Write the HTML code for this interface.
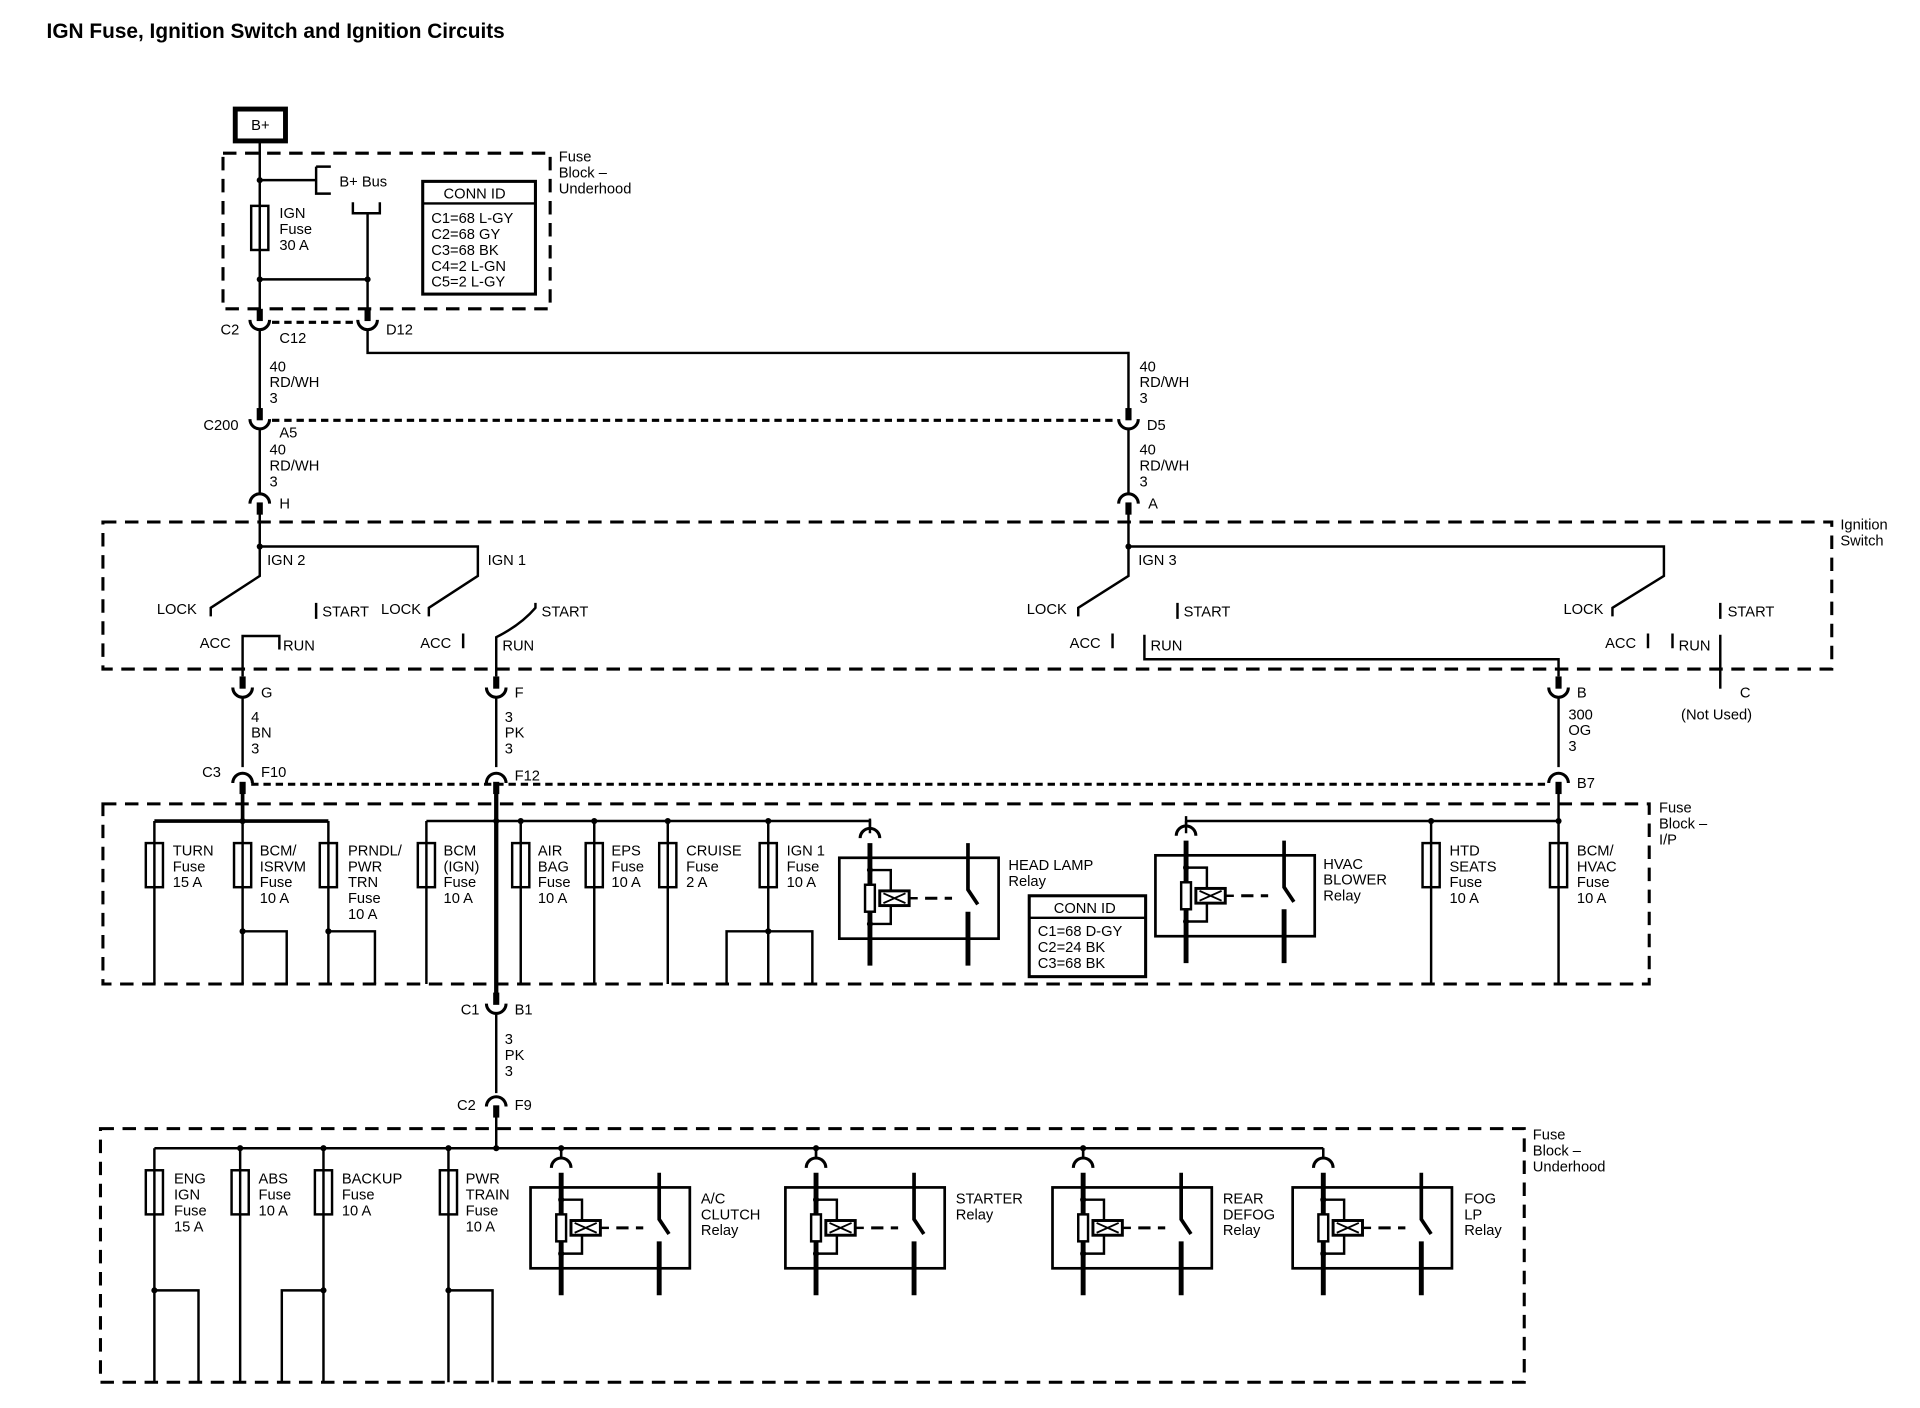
<!DOCTYPE html>
<html><head><meta charset="utf-8"><style>
html,body{margin:0;padding:0;background:#fff;}
svg{display:block;}
text{font-family:"Liberation Sans",sans-serif;font-size:12px;fill:#000;}
</style></head><body>
<svg width="1920" height="1408" viewBox="0 0 1567 1149" preserveAspectRatio="none" xmlns="http://www.w3.org/2000/svg">
<defs>
<g id="relay" fill="none" stroke="#000">
 <path d="M25,-32 V-24" stroke-width="2"/>
 <path d="M17,-16 A8,8 0 0 1 33,-16" stroke-width="2.5"/>
 <rect x="0" y="0" width="130" height="66" stroke-width="2.2" fill="#fff"/>
 <path d="M25,-12 V88" stroke-width="4"/>
 <path d="M25,10 H42 V54 H25" stroke-width="2"/>
 <circle cx="25" cy="10" r="2" fill="#000"/><circle cx="25" cy="54" r="2" fill="#000"/>
 <rect x="21" y="22" width="8" height="22" stroke-width="2" fill="#fff"/>
 <rect x="33" y="27" width="24" height="12" stroke-width="2.4" fill="#fff"/>
 <path d="M36,29 L54,37 M36,37 L54,29" stroke-width="1.5"/>
 <path d="M57,33 H64" stroke-width="2"/>
 <path d="M70,33 H80 M86,33 H92" stroke-width="2.5"/>
 <path d="M105,-12 V26 L113,38" stroke-width="3"/>
 <path d="M105,44 V88" stroke-width="4"/>
</g>
<g id="fuse"><rect x="-7" y="0" width="14" height="36" fill="#fff" stroke="#000" stroke-width="2"/><line x1="0" y1="0" x2="0" y2="36" stroke="#000" stroke-width="2"/></g>
<g id="cupD" fill="none" stroke="#000"><path d="M0,-10 V0" stroke-width="5"/><path d="M-8,-1 A8,8 0 0 0 8,-1" stroke-width="2.5"/></g>
<g id="cupU" fill="none" stroke="#000"><path d="M0,10 V0" stroke-width="5"/><path d="M-8,1 A8,8 0 0 1 8,1" stroke-width="2.5"/></g>
</defs>

<text x="38" y="31" style="font-size:17px;font-weight:bold">IGN Fuse, Ignition Switch and Ignition Circuits</text>

<g fill="none" stroke="#000" stroke-width="2">
<rect x="192" y="89" width="41" height="26" stroke-width="4"/>
<rect x="182" y="125" width="267" height="127" stroke-dasharray="11,7" stroke-width="2.5"/>
<path d="M212,115 V256"/>
<path d="M212,147 H258 M258,136 H270 M258,136 V158 H270"/>
<path d="M288,165 V174 H310 V165 M300,174 V256"/>
<path d="M212,228 H300"/>
<rect x="345" y="148" width="92" height="92" stroke-width="2.5"/>
<path d="M345,166 H437"/>
<path d="M222,263 H292" stroke-dasharray="6,4" stroke-width="2.5"/>
<path d="M212,268 V336 M300,268 V288 H921 V336"/>
<path d="M222,343 H912" stroke-dasharray="6,4" stroke-width="2.5"/>
<path d="M212,350 V402 M921,350 V402"/>
<rect x="84" y="426" width="1411" height="120" stroke-dasharray="11,7" stroke-width="2.5"/>
<path d="M212,418 V470 L172,496 V503 M212,446 H390 V470 L350,496 V503"/>
<path d="M258,492 V505 M378,517 V529 M198,552 V519 H228 V530"/>
<path d="M405,552 V520 Q425,510 437,496 V492"/>
<path d="M921,418 V470 L880,496 V503 M921,446 H1358 V470 L1316,496 V503"/>
<path d="M961,492 V505 M908,517 V529 M1345,517 V529 M1365,517 V529 M1404,492 V505"/>
<path d="M934,518 V538 H1272 V552"/>
<path d="M1404,518 V562"/>
<path d="M198,570 V626 M405,570 V626 M1272,570 V626"/>
<path d="M205,640 H1265" stroke-dasharray="6,4" stroke-width="2.5"/>
<rect x="84" y="656" width="1262" height="147" stroke-dasharray="11,7" stroke-width="2.5"/>
<path d="M198,646 V670 M126,670 H268" stroke-width="3"/>
<path d="M126,670 V803 M198,670 V803 M268,670 V803 M198,760 H234 V803 M268,760 H306 V803"/>
<path d="M405,646 V812" stroke-width="3.5"/>
<path d="M348,670 H710 V680"/>
<path d="M348,670 V803 M425,670 V803 M485,670 V803 M545,670 V803 M627,670 V803 M593,803 V760 H663 V803 M627,760 H593"/>
<path d="M1272,646 V803 M968,670 H1272 V670 M968,670 V680 M1168,670 V803"/>
<rect x="840" y="731" width="95" height="66" stroke-width="2.5"/>
<path d="M840,749 H935"/>
<path d="M405,828 V892"/>
<path d="M405,910 V937"/>
<rect x="82" y="921" width="1162" height="207" stroke-dasharray="11,7" stroke-width="2.5"/>
<path d="M126,937 H1080"/>
<path d="M126,937 V1128 M196,937 V1128 M264,937 V1128 M366,937 V1128 M126,1053 H162 V1128 M264,1053 H230 V1128 M366,1053 H402 V1128"/>
</g>
<g fill="#000">
<circle cx="212" cy="147" r="2.5"/><circle cx="212" cy="228" r="2.5"/><circle cx="300" cy="228" r="2.5"/>
<circle cx="212" cy="446" r="2.5"/><circle cx="921" cy="446" r="2.5"/>
<circle cx="198" cy="670" r="2.5"/><circle cx="405" cy="670" r="2.5"/><circle cx="425" cy="670" r="2.5"/><circle cx="485" cy="670" r="2.5"/><circle cx="545" cy="670" r="2.5"/><circle cx="627" cy="670" r="2.5"/>
<circle cx="1168" cy="670" r="2.5"/><circle cx="1272" cy="670" r="2.5"/>
<circle cx="198" cy="760" r="2.5"/><circle cx="268" cy="760" r="2.5"/><circle cx="627" cy="760" r="2.5"/>
<circle cx="405" cy="937" r="2.5"/><circle cx="196" cy="937" r="2.5"/><circle cx="264" cy="937" r="2.5"/><circle cx="366" cy="937" r="2.5"/><circle cx="458" cy="937" r="2.5"/><circle cx="666" cy="937" r="2.5"/><circle cx="884" cy="937" r="2.5"/>
<circle cx="126" cy="1053" r="2.5"/><circle cx="264" cy="1053" r="2.5"/><circle cx="366" cy="1053" r="2.5"/>
</g>
<use href="#cupD" x="212" y="262"/><use href="#cupD" x="300" y="262"/>
<use href="#cupD" x="212" y="343"/><use href="#cupD" x="921" y="343"/>
<use href="#cupU" x="212" y="410"/><use href="#cupU" x="921" y="410"/>
<use href="#cupD" x="198" y="562"/><use href="#cupD" x="405" y="562"/><use href="#cupD" x="1272" y="562"/>
<use href="#cupU" x="198" y="638"/><use href="#cupU" x="405" y="638"/><use href="#cupU" x="1272" y="638"/>
<use href="#cupD" x="405" y="820"/><use href="#cupU" x="405" y="902"/>
<use href="#fuse" x="212" y="168"/>
<use href="#fuse" x="126" y="688"/><use href="#fuse" x="198" y="688"/><use href="#fuse" x="268" y="688"/>
<use href="#fuse" x="348" y="688"/><use href="#fuse" x="425" y="688"/><use href="#fuse" x="485" y="688"/><use href="#fuse" x="545" y="688"/><use href="#fuse" x="627" y="688"/>
<use href="#fuse" x="1168" y="688"/><use href="#fuse" x="1272" y="688"/>
<use href="#fuse" x="126" y="955"/><use href="#fuse" x="196" y="955"/><use href="#fuse" x="264" y="955"/><use href="#fuse" x="366" y="955"/>
<use href="#relay" x="685" y="700"/>
<use href="#relay" x="943" y="698"/>
<use href="#relay" x="433" y="969"/>
<use href="#relay" x="641" y="969"/>
<use href="#relay" x="859" y="969"/>
<use href="#relay" x="1055" y="969"/>
<path d="M458,937 V944 M666,937 V944 M884,937 V944 M1080,937 V944" stroke="#000" stroke-width="2"/>

<text x="205" y="106">B+</text>
<text x="277" y="152">B+ Bus</text>
<text x="228" y="178">IGN</text><text x="228" y="191">Fuse</text><text x="228" y="204">30 A</text>
<text x="456" y="132">Fuse</text><text x="456" y="145">Block –</text><text x="456" y="158">Underhood</text>
<text x="362" y="162">CONN ID</text>
<text x="352" y="182">C1=68 L-GY</text><text x="352" y="195">C2=68 GY</text><text x="352" y="208">C3=68 BK</text><text x="352" y="221">C4=2 L-GN</text><text x="352" y="234">C5=2 L-GY</text>
<text x="180" y="273">C2</text><text x="228" y="280">C12</text><text x="315" y="273">D12</text>
<text x="220" y="303">40</text><text x="220" y="316">RD/WH</text><text x="220" y="329">3</text>
<text x="930" y="303">40</text><text x="930" y="316">RD/WH</text><text x="930" y="329">3</text>
<text x="166" y="351">C200</text><text x="228" y="357">A5</text><text x="936" y="351">D5</text>
<text x="220" y="371">40</text><text x="220" y="384">RD/WH</text><text x="220" y="397">3</text>
<text x="930" y="371">40</text><text x="930" y="384">RD/WH</text><text x="930" y="397">3</text>
<text x="228" y="415">H</text><text x="937" y="415">A</text>
<text x="1502" y="432">Ignition</text><text x="1502" y="445">Switch</text>
<text x="218" y="461">IGN 2</text><text x="398" y="461">IGN 1</text><text x="929" y="461">IGN 3</text>
<text x="128" y="501">LOCK</text><text x="263" y="503">START</text><text x="311" y="501">LOCK</text><text x="442" y="503">START</text>
<text x="163" y="529">ACC</text><text x="231" y="531">RUN</text><text x="343" y="529">ACC</text><text x="410" y="531">RUN</text>
<text x="838" y="501">LOCK</text><text x="966" y="503">START</text><text x="873" y="529">ACC</text><text x="939" y="531">RUN</text>
<text x="1276" y="501">LOCK</text><text x="1410" y="503">START</text><text x="1310" y="529">ACC</text><text x="1370" y="531">RUN</text>
<text x="213" y="569">G</text><text x="420" y="569">F</text><text x="1287" y="569">B</text>
<text x="1420" y="569">C</text><text x="1372" y="587">(Not Used)</text>
<text x="205" y="589">4</text><text x="205" y="602">BN</text><text x="205" y="615">3</text>
<text x="412" y="589">3</text><text x="412" y="602">PK</text><text x="412" y="615">3</text>
<text x="1280" y="587">300</text><text x="1280" y="600">OG</text><text x="1280" y="613">3</text>
<text x="165" y="634">C3</text><text x="213" y="634">F10</text><text x="420" y="637">F12</text><text x="1287" y="643">B7</text>
<text x="1354" y="663">Fuse</text><text x="1354" y="676">Block –</text><text x="1354" y="689">I/P</text>
<text x="141" y="698">TURN</text><text x="141" y="711">Fuse</text><text x="141" y="724">15 A</text>
<text x="212" y="698">BCM/</text><text x="212" y="711">ISRVM</text><text x="212" y="724">Fuse</text><text x="212" y="737">10 A</text>
<text x="284" y="698">PRNDL/</text><text x="284" y="711">PWR</text><text x="284" y="724">TRN</text><text x="284" y="737">Fuse</text><text x="284" y="750">10 A</text>
<text x="362" y="698">BCM</text><text x="362" y="711">(IGN)</text><text x="362" y="724">Fuse</text><text x="362" y="737">10 A</text>
<text x="439" y="698">AIR</text><text x="439" y="711">BAG</text><text x="439" y="724">Fuse</text><text x="439" y="737">10 A</text>
<text x="499" y="698">EPS</text><text x="499" y="711">Fuse</text><text x="499" y="724">10 A</text>
<text x="560" y="698">CRUISE</text><text x="560" y="711">Fuse</text><text x="560" y="724">2 A</text>
<text x="642" y="698">IGN 1</text><text x="642" y="711">Fuse</text><text x="642" y="724">10 A</text>
<text x="823" y="710">HEAD LAMP</text><text x="823" y="723">Relay</text>
<text x="860" y="745">CONN ID</text>
<text x="847" y="764">C1=68 D-GY</text><text x="847" y="777">C2=24 BK</text><text x="847" y="790">C3=68 BK</text>
<text x="1080" y="709">HVAC</text><text x="1080" y="722">BLOWER</text><text x="1080" y="735">Relay</text>
<text x="1183" y="698">HTD</text><text x="1183" y="711">SEATS</text><text x="1183" y="724">Fuse</text><text x="1183" y="737">10 A</text>
<text x="1287" y="698">BCM/</text><text x="1287" y="711">HVAC</text><text x="1287" y="724">Fuse</text><text x="1287" y="737">10 A</text>
<text x="376" y="828">C1</text><text x="420" y="828">B1</text>
<text x="412" y="852">3</text><text x="412" y="865">PK</text><text x="412" y="878">3</text>
<text x="373" y="906">C2</text><text x="420" y="906">F9</text>
<text x="1251" y="930">Fuse</text><text x="1251" y="943">Block –</text><text x="1251" y="956">Underhood</text>
<text x="142" y="966">ENG</text><text x="142" y="979">IGN</text><text x="142" y="992">Fuse</text><text x="142" y="1005">15 A</text>
<text x="211" y="966">ABS</text><text x="211" y="979">Fuse</text><text x="211" y="992">10 A</text>
<text x="279" y="966">BACKUP</text><text x="279" y="979">Fuse</text><text x="279" y="992">10 A</text>
<text x="380" y="966">PWR</text><text x="380" y="979">TRAIN</text><text x="380" y="992">Fuse</text><text x="380" y="1005">10 A</text>
<text x="572" y="982">A/C</text><text x="572" y="995">CLUTCH</text><text x="572" y="1008">Relay</text>
<text x="780" y="982">STARTER</text><text x="780" y="995">Relay</text>
<text x="998" y="982">REAR</text><text x="998" y="995">DEFOG</text><text x="998" y="1008">Relay</text>
<text x="1195" y="982">FOG</text><text x="1195" y="995">LP</text><text x="1195" y="1008">Relay</text>
</svg>
</body></html>
